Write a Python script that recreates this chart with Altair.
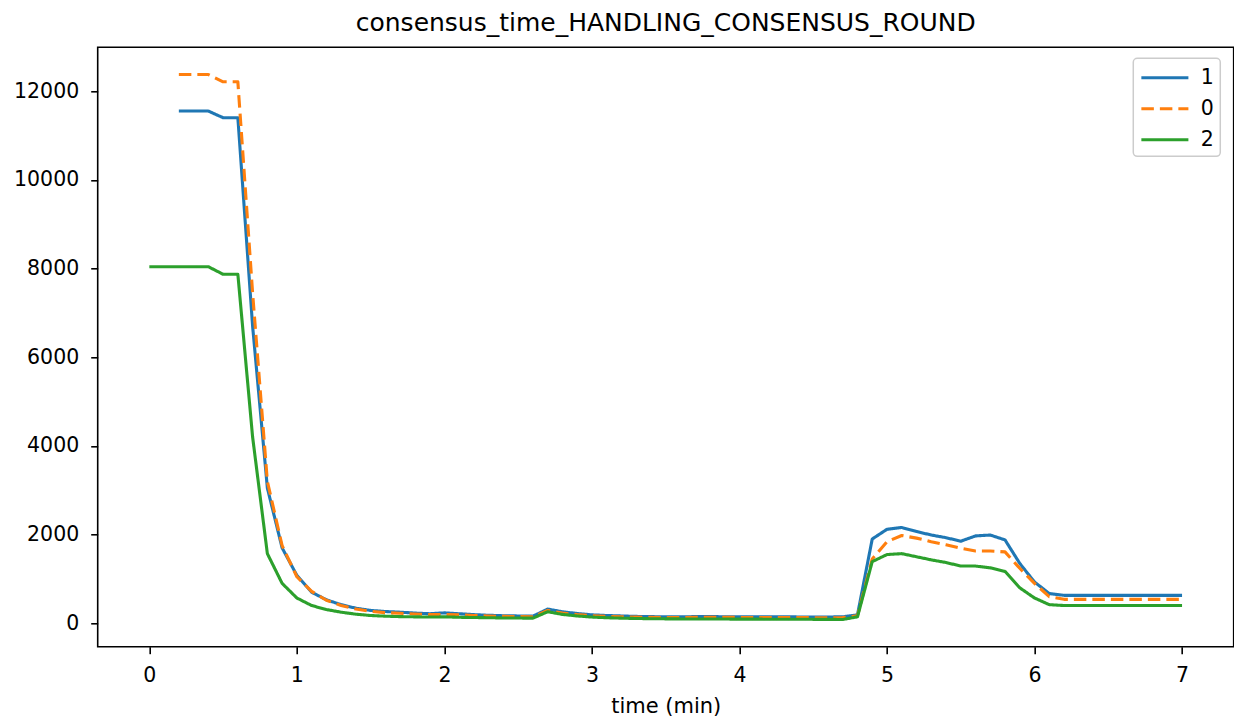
import altair as alt
import pandas as pd

times = [0.0, 0.1, 0.2, 0.3, 0.4, 0.5, 0.6, 0.7, 0.8, 0.9,
         1.0, 1.1, 1.2, 1.3, 1.4, 1.5, 1.6, 1.7, 1.8, 1.9,
         2.0, 2.1, 2.2, 2.3, 2.4, 2.5, 2.6, 2.7, 2.8, 2.9,
         3.0, 3.1, 3.2, 3.3, 3.4, 3.5, 3.6, 3.7, 3.8, 3.9,
         4.0, 4.1, 4.2, 4.3, 4.4, 4.5, 4.6, 4.7, 4.8, 4.9,
         5.0, 5.1, 5.2, 5.3, 5.4, 5.5, 5.6, 5.7, 5.8, 5.9,
         6.0, 6.1, 6.2, 6.3, 6.4, 6.5, 6.6, 6.7, 6.8, 6.9, 7.0]

# series "1" (starts at 0.2 min)
series_1 = [11550, 11550, 11550, 11400, 11400, 6700, 3050, 1700,
            1080, 700, 530, 420, 340, 290, 265, 250, 230, 215,
            235, 215, 195, 180, 170, 165, 160, 320, 260, 220,
            190, 175, 165, 155, 150, 145, 145, 150, 150, 148,
            146, 145, 145, 144, 143, 142, 142, 145, 190, 1900,
            2120, 2160, 2070, 1990, 1930, 1850, 1970, 1990, 1880, 1350,
            930, 670, 630, 630, 630, 630, 630, 630, 630, 630, 630]

# series "0" (starts at 0.2 min)
series_0 = [12373, 12373, 12373, 12210, 12210, 7450, 3200, 1750,
            1050, 720, 520, 400, 320, 270, 240, 225, 210, 195,
            200, 190, 175, 165, 155, 150, 145, 290, 230, 195,
            170, 155, 145, 138, 133, 130, 130, 135, 135, 133,
            132, 130, 130, 128, 127, 126, 125, 128, 170, 1450,
            1840, 1980, 1920, 1840, 1770, 1690, 1630, 1630, 1610, 1240,
            900, 600, 540, 540, 540, 540, 540, 540, 540, 540, 540]

# series "2" (starts at 0.0 min)
series_2 = [8040, 8040, 8040, 8040, 8040, 7870, 7870, 4200, 1570, 900,
            570, 400, 310, 250, 205, 175, 160, 150, 145, 140,
            145, 135, 130, 125, 120, 118, 115, 260, 200, 165,
            140, 125, 115, 108, 103, 100, 98, 97, 96, 95,
            94, 93, 92, 91, 90, 89, 88, 86, 145, 1390,
            1550, 1570, 1500, 1430, 1370, 1290, 1290, 1250, 1170, 800,
            570, 420, 400, 400, 400, 400, 400, 400, 400, 400, 400]

series_order = ["1", "0", "2"]
series_colors = ["#1f77b4", "#ff7f0e", "#2ca02c"]
series_dashes = [[1, 0], [12.5, 6], [1, 0]]
x_ticks = [0, 1, 2, 3, 4, 5, 6, 7]
y_ticks = [0, 2000, 4000, 6000, 8000, 10000, 12000]

rows = []
for name, vals in zip(series_order, [series_1, series_0, series_2]):
    ts = times[len(times) - len(vals):]
    for t, v in zip(ts, vals):
        rows.append({"time": t, "value": v, "series": name})
df = pd.DataFrame(rows)

legend = alt.Legend(
    title=None, orient="none", legendX=1035.6, legendY=11,
    symbolType="M-1.96,0L1.96,0", symbolSize=576, symbolStrokeWidth=3.1,
    symbolOffset=12.1, labelOffset=21.9,
    labelFont="DejaVu Sans", labelFontSize=20.5, labelColor="black",
    padding=5.5, rowPadding=6,
    strokeColor="#cccccc", fillColor="rgba(255,255,255,0.8)",
    cornerRadius=4,
)

base = alt.Chart(df).mark_line(strokeWidth=3.1, strokeJoin="round").encode(
    x=alt.X("time:Q",
            scale=alt.Scale(domain=[-0.35, 7.35], nice=False, zero=False),
            axis=alt.Axis(values=x_ticks, format="d", title="time (min)",
                          labelBaseline="alphabetic", labelPadding=28.3,
                          labelFlush=False,
                          titleBaseline="alphabetic", titleY=65.8)),
    y=alt.Y("value:Q",
            scale=alt.Scale(domain=[-528, 12988], nice=False, zero=False),
            axis=alt.Axis(values=y_ticks, format="d", title=None,
                          labelPadding=12, labelFlush=False)),
    color=alt.Color("series:N",
                    scale=alt.Scale(domain=series_order, range=series_colors),
                    legend=legend),
    strokeDash=alt.StrokeDash("series:N",
                              scale=alt.Scale(domain=series_order, range=series_dashes),
                              legend=legend),
)

layers = [base.transform_filter(alt.datum.series == s) for s in series_order]

chart = alt.layer(*layers).properties(
    width=1136,
    height=599.4,
    title="consensus_time_HANDLING_CONSENSUS_ROUND",
    autosize=alt.AutoSizeParams(type="none"),
    padding={"left": 89.7, "top": 39.3, "right": 0, "bottom": 70},
).configure_view(
    stroke="black", strokeWidth=1.6
).configure_axis(
    domain=False, grid=False,
    labelFont="DejaVu Sans", labelFontSize=20.5, labelColor="black",
    tickColor="black", tickSize=7, tickWidth=1.6,
    titleFont="DejaVu Sans", titleFontSize=21, titleFontWeight="normal",
    titleColor="black",
).configure_legend(
    strokeWidth=1.5,
).configure_title(
    font="DejaVu Sans", fontSize=25, fontWeight="normal", color="black",
    anchor="middle", baseline="alphabetic", offset=11.6,
)

chart.save("out.html", embed_options={"renderer": "svg", "actions": False})
